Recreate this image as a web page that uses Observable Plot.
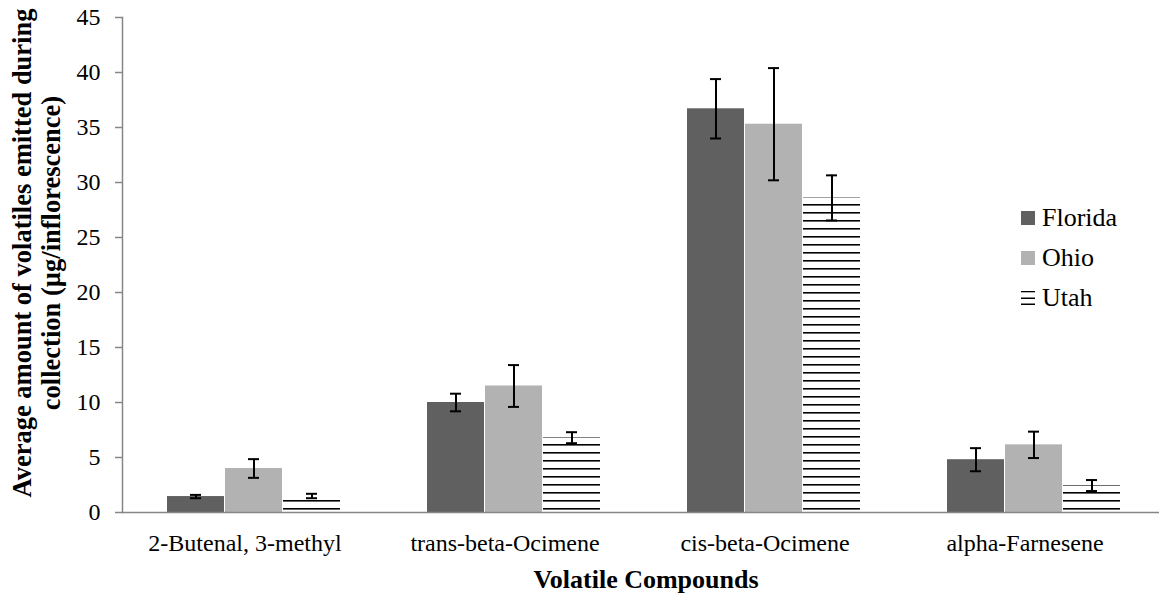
<!DOCTYPE html>
<html><head><meta charset="utf-8">
<script src="https://cdn.jsdelivr.net/npm/d3@7"></script>
<script src="https://cdn.jsdelivr.net/npm/@observablehq/plot@0.6"></script>
<style>
body{margin:0;background:#fff;font-family:"Liberation Serif","DejaVu Serif",serif;}
#wrap{position:relative;width:1159px;height:596px;overflow:hidden;}
#legend{position:absolute;left:1021px;top:198px;font-size:26px;color:#000;font-family:"Liberation Serif","DejaVu Serif",serif;}
.item{display:flex;align-items:center;height:40px;}
.sw{width:14px;height:14px;margin-right:7px;display:block;flex:none;}
svg text{font-family:"Liberation Serif","DejaVu Serif",serif;}
</style></head><body><div id="wrap"><div id="legend"></div></div>
<script>
const compounds = ["2-Butenal, 3-methyl", "trans-beta-Ocimene", "cis-beta-Ocimene", "alpha-Farnesene"];
const states = ["Florida", "Ohio", "Utah"];
const florida = [1.45, 10.0, 36.7, 4.8];
const floridaErr = [0.15, 0.8, 2.7, 1.05];
const ohio = [4.0, 11.5, 35.3, 6.15];
const ohioErr = [0.85, 1.9, 5.1, 1.2];
const utah = [1.5, 6.8, 28.6, 2.45];
const utahErr = [0.2, 0.5, 2.05, 0.5];
const yTicks = [0, 5, 10, 15, 20, 25, 30, 35, 40, 45];
const yLabel = "Average amount of volatiles emitted during\ncollection (µg/inflorescence)";
const xLabel = "Volatile Compounds";

const series = {Florida: [florida, floridaErr], Ohio: [ohio, ohioErr], Utah: [utah, utahErr]};
const fills = {Florida: "#606060", Ohio: "#b2b2b2", Utah: "url(#utahStripes)"};
const rows = [];
states.forEach(s => compounds.forEach((c, i) => rows.push({state: s, compound: c, value: series[s][0][i], err: series[s][1][i]})));

const step = 260.75, band = 174, sub = band / 3, cap = 12;
const marks = [];
states.forEach((s, k) => {
  const data = rows.filter(d => d.state === s);
  marks.push(Plot.barY(data, {x: "compound", y: "value", fill: fills[s],
    insetLeft: k * sub, insetRight: (2 - k) * sub}));
});
states.forEach((s, k) => {
  const data = rows.filter(d => d.state === s);
  const c = (k - 1) * sub;
  marks.push(Plot.ruleX(data, {x: "compound", y1: d => d.value - d.err, y2: d => d.value + d.err, dx: c, stroke: "#000", strokeWidth: 2}));
  marks.push(Plot.tickY(data, {x: "compound", y: d => d.value - d.err, stroke: "#000", strokeWidth: 2,
    insetLeft: band / 2 + c - cap / 2, insetRight: band / 2 - c - cap / 2}));
  marks.push(Plot.tickY(data, {x: "compound", y: d => d.value + d.err, stroke: "#000", strokeWidth: 2,
    insetLeft: band / 2 + c - cap / 2, insetRight: band / 2 - c - cap / 2}));
});

const chart = Plot.plot({
  width: 1159, height: 596,
  marginLeft: 122, marginRight: 0, marginTop: 17, marginBottom: 84,
  style: {fontFamily: "'Liberation Serif','DejaVu Serif',serif", fontSize: "24px", color: "#000", background: "#fff", overflow: "visible"},
  x: {domain: compounds, range: [122.5, 122.5 + 4 * step], paddingInner: 1 - band / step, paddingOuter: (1 - band / step) / 2, label: null},
  y: {domain: [0, 45], label: null},
  marks: [
    ...marks,
    Plot.ruleY([0], {stroke: "#868686", strokeWidth: 1.5}),
    Plot.frame({anchor: "left", stroke: "#868686", strokeWidth: 1.5}),
    Plot.axisY({ticks: yTicks, tickSize: 7, tickPadding: 15, stroke: "#868686", strokeWidth: 1.5, fill: "#000", label: null, fontSize: 24}),
    Plot.axisX({tickSize: 0, tickPadding: 21, dx: -9, label: null, fontSize: 24, fill: "#000"}),
    Plot.text([xLabel], {frameAnchor: "bottom", dx: 5, dy: 67, fontWeight: "bold", fontSize: 26, lineAnchor: "middle", textAnchor: "middle", fill: "#000"}),
    Plot.text([yLabel], {frameAnchor: "left", rotate: -90, dx: -86, dy: -12, fontWeight: "bold", fontSize: 26.5, lineAnchor: "middle", textAnchor: "middle", lineHeight: 1.1, fill: "#000"})
  ]
});

// stripe pattern for Utah bars
const svgNS = "http://www.w3.org/2000/svg";
const svg = chart.tagName.toLowerCase() === "svg" ? chart : chart.querySelector("svg");
const defs = document.createElementNS(svgNS, "defs");
defs.innerHTML = '<pattern id="utahStripes" patternUnits="userSpaceOnUse" x="0" y="0" width="8" height="8"><rect x="0" y="4" width="8" height="1.6" fill="#000"/></pattern>';
svg.insertBefore(defs, svg.firstChild);
document.getElementById("wrap").insertBefore(chart, document.getElementById("legend"));

// legend
const legend = document.getElementById("legend");
states.forEach(s => {
  const item = document.createElement("div");
  item.className = "item";
  let sw;
  if (s === "Utah") {
    sw = '<svg class="sw" width="14" height="14"><rect x="0" y="0" width="14" height="1.3" fill="#000"/><rect x="0" y="6.5" width="14" height="1.5" fill="#000"/><rect x="0" y="12.5" width="14" height="1.5" fill="#000"/></svg>';
  } else {
    sw = '<span class="sw" style="background:' + fills[s] + '"></span>';
  }
  item.innerHTML = sw + '<span>' + s + '</span>';
  legend.appendChild(item);
});
</script></body></html>
